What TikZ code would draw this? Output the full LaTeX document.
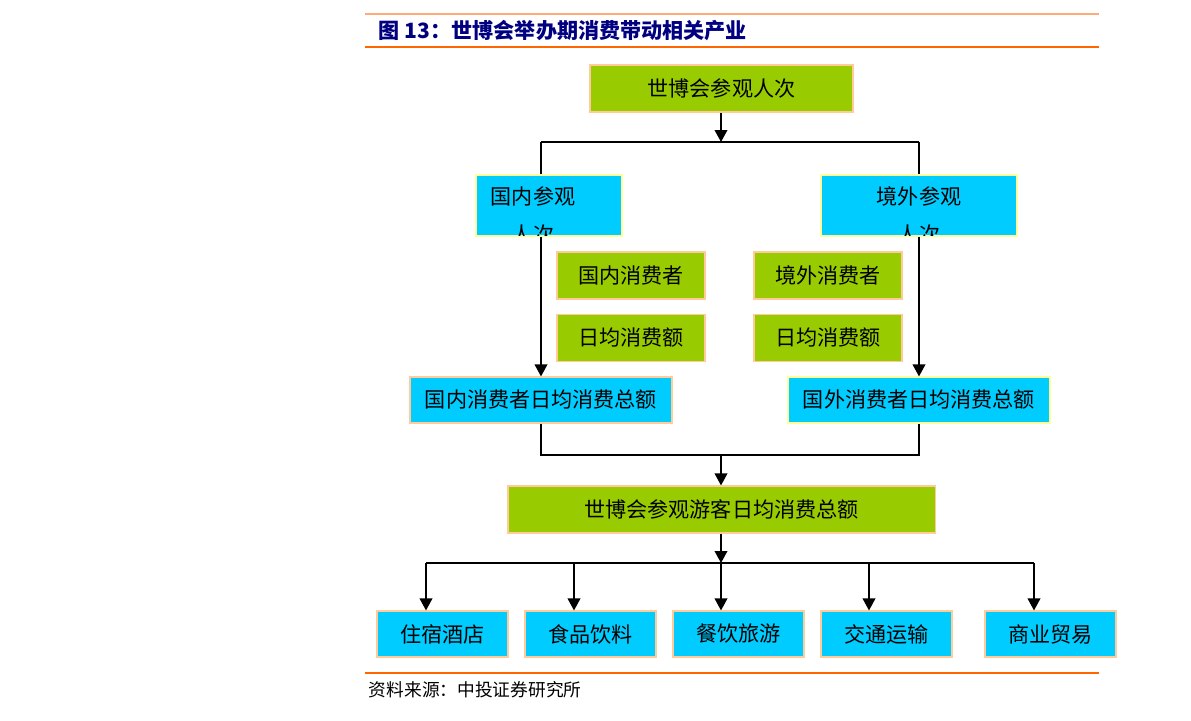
\documentclass[tikz,border=0pt]{standalone}
\usepackage{fontspec}
\setmainfont{Noto Sans CJK SC}
\usepackage{xcolor}
\usepackage{tikz}
\usetikzlibrary{arrows.meta,positioning}
\definecolor{expogreen}{RGB}{153,204,0}
\definecolor{expocyan}{RGB}{0,204,255}
\definecolor{edgeorange}{RGB}{255,204,153}
\definecolor{edgeyellow}{RGB}{255,255,153}
\definecolor{ruleorange}{RGB}{255,102,0}
\definecolor{rulelight}{RGB}{255,170,120}
\definecolor{titleblue}{RGB}{0,0,128}

\begin{document}
\begin{tikzpicture}[x=0.025cm, y=-0.025cm]
    % Define styles
    \tikzset{
        box/.style={rectangle, draw, line width=0.8pt, inner sep=0pt, align=center, font=\fontsize{15}{18}\selectfont},
        greenbox/.style={box, fill=expogreen, draw=edgeorange, minimum width=3.7cm, minimum height=1.175cm},
        cyanbox/.style={box, fill=expocyan, draw=edgeorange, minimum width=3.275cm, minimum height=1.15cm},
        link/.style={line width=1pt, black},
        arr/.style={link, -{Triangle[width=9pt,length=8.5pt]}}
    }
    \useasboundingbox (0,0) rectangle (1191,721);

    % Title and rules
    \draw[rulelight, line width=0.8pt] (365,14) -- (1099,14);
    \node[anchor=west, text=titleblue, font=\fontsize{15}{18}\selectfont\bfseries] (title) at (374,31) {图 13：世博会举办期消费带动相关产业};
    \draw[ruleorange, line width=2pt] (365,47) -- (1099,47);
    \draw[ruleorange, line width=1.5pt] (365,673) -- (1099,673);
    \node[anchor=west, font=\fontsize{12.6}{15}\selectfont] (source) at (364,690) {资料来源：中投证券研究所};

    % Components
    \node[greenbox, minimum width=6.575cm] (visit) at (721.5,88.5) {世博会参观人次};
    \node[cyanbox, draw=edgeyellow, minimum width=3.65cm, minimum height=1.525cm] (dom) at (549,205.5) {};
    \node[cyanbox, draw=edgeyellow, minimum width=4.9cm, minimum height=1.525cm] (fgn) at (919,205.5) {};
    \begin{scope}
        \clip ([shift={(1,-1)}]dom.south west) rectangle ([shift={(-1,1)}]dom.north east);
        \node[anchor=north, inner sep=0pt, align=center, font=\fontsize{15}{27}\selectfont] (domtxt) at (533,186) {国内参观\\人次};
    \end{scope}
    \begin{scope}
        \clip ([shift={(1,-1)}]fgn.south west) rectangle ([shift={(-1,1)}]fgn.north east);
        \node[anchor=north, inner sep=0pt, align=center, font=\fontsize{15}{27}\selectfont] (fgntxt) at (919,186) {境外参观\\人次};
    \end{scope}
    \node[greenbox] (domcons) at (631,275.5) {国内消费者};
    \node[greenbox] (domdaily) at (631,338) {日均消费额};
    \node[greenbox] (fgncons) at (828,275.5) {境外消费者};
    \node[greenbox] (fgndaily) at (828,338) {日均消费额};
    \node[cyanbox, minimum width=6.55cm] (domtot) at (541,400) {国内消费者日均消费总额};
    \node[cyanbox, draw=edgeyellow, minimum width=6.55cm] (fgntot) at (919,400) {国外消费者日均消费总额};
    \node[greenbox, minimum width=10.675cm] (total) at (721.5,509.5) {世博会参观游客日均消费总额};
    \node[cyanbox] (hotel) at (442.5,634) {住宿酒店};
    \node[cyanbox] (food) at (590.5,634) {食品饮料};
    \node[cyanbox] (tour) at (738.5,634) {餐饮旅游};
    \node[cyanbox] (traffic) at (886.5,634) {交通运输};
    \node[cyanbox] (trade) at (1050.5,634) {商业贸易};

    % Junctions
    \coordinate (split) at (721,142);
    \coordinate (splitL) at (541,142);
    \coordinate (splitR) at (919,142);
    \coordinate (merge) at (721,455);
    \coordinate (fan) at (721,563);
    \coordinate (fanL) at (426,563);
    \coordinate (fanR) at (1034,563);

    % Arrows
    \draw[arr] (visit.south -| split) -- (split);
    \draw[link] (splitL) -- (splitR);
    \draw[link] (splitL) -- (splitL |- dom.north);
    \draw[link] (splitR) -- (fgn.north);
    \draw[arr] (splitL |- dom.south) -- (domtot.north);
    \draw[arr] (fgn.south) -- (fgntot.north);
    \draw[link] (domtot.south) -- (domtot.south |- merge) -- (fgntot.south |- merge) -- (fgntot.south);
    \draw[arr] (merge) -- (merge |- total.north);
    \draw[arr] (merge |- total.south) -- (fan);
    \draw[link] (fanL) -- (fanR);
    \foreach \name/\xpos in {hotel/426, food/574, tour/721, traffic/869, trade/1034}
        \draw[arr] (\xpos,563) -- (\xpos,563 |- \name.north);
\end{tikzpicture}
\end{document}
